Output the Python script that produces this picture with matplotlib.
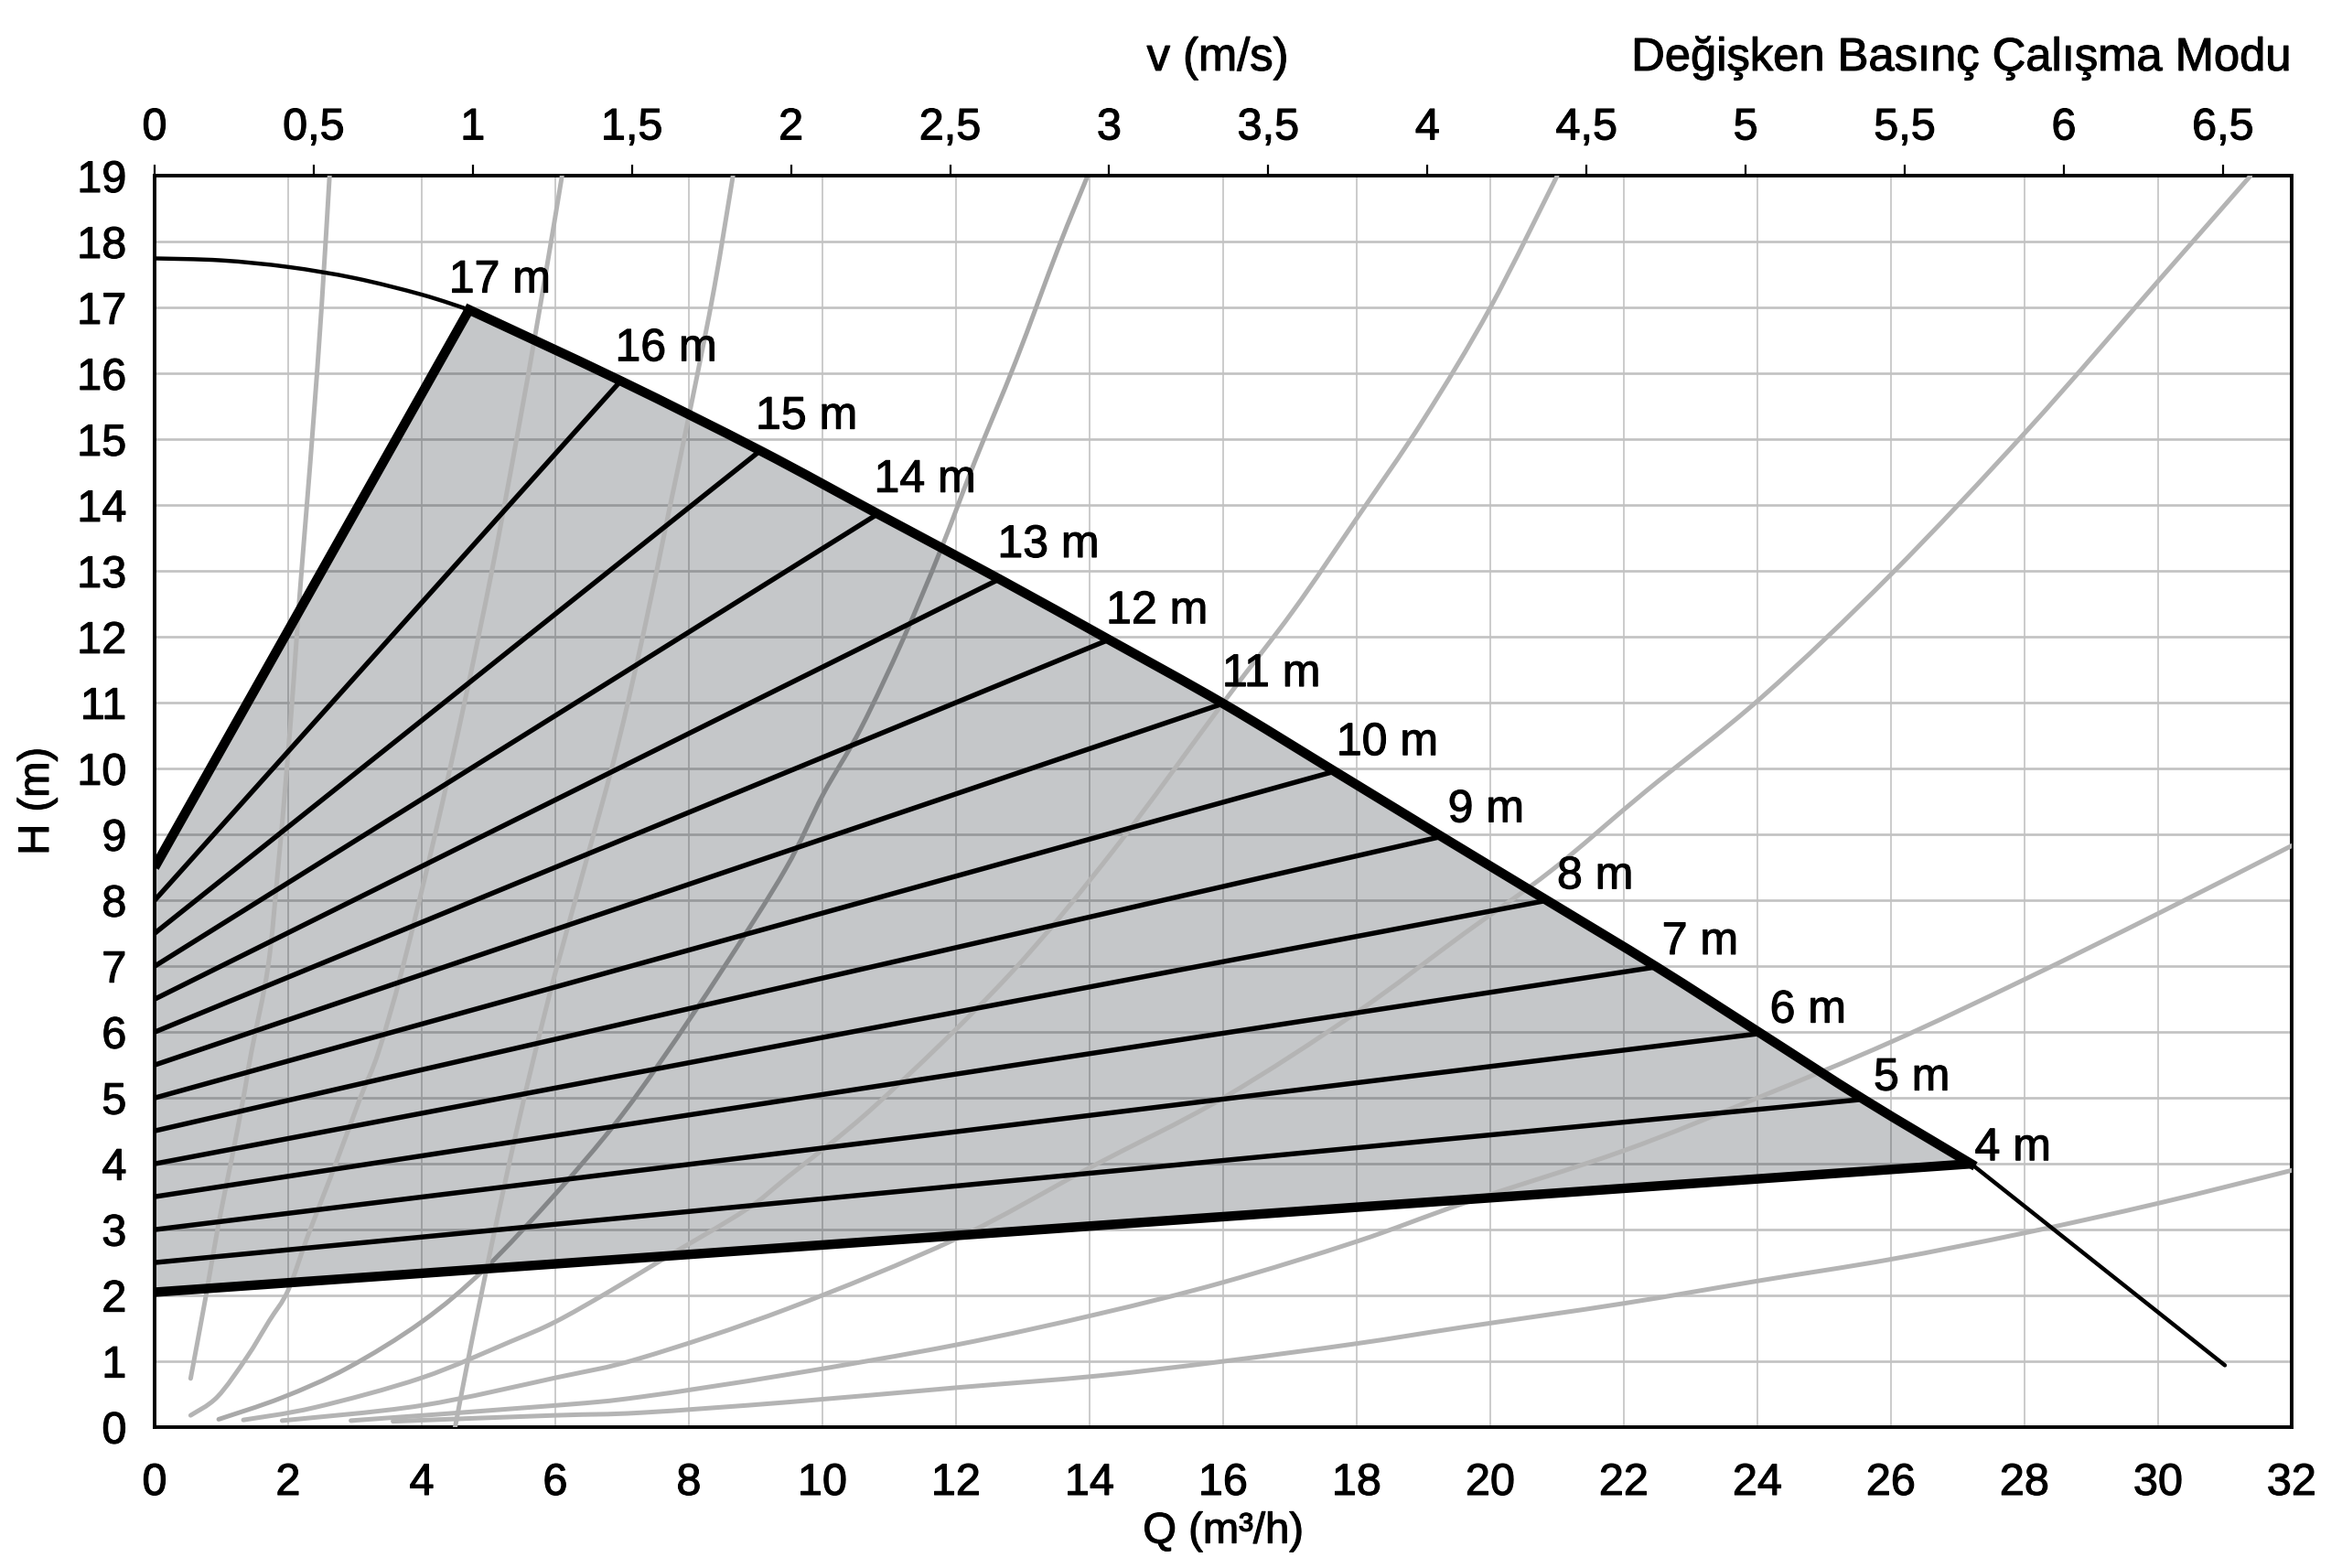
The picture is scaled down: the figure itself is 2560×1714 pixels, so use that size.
import matplotlib
matplotlib.use('Agg')
import matplotlib.pyplot as plt
from matplotlib import font_manager
from matplotlib import patheffects
from matplotlib.path import Path
from matplotlib.patches import PathPatch

# ---------------- data ----------------
# Maximum pump curve (Q in m3/h, H in m)
MAX_Q = [0, 1, 2, 3, 4, 4.71, 6.98, 9.07, 10.83, 12.65, 14.29, 16.0, 17.67,
         19.27, 20.85, 22.49, 24.05, 25.59, 27.2, 31.0]
MAX_H = [17.75, 17.72, 17.62, 17.45, 17.2, 16.97, 15.89, 14.83, 13.87, 12.88,
         11.96, 10.99, 9.96, 8.97, 8.0, 6.99, 5.98, 4.98, 4.0, 0.94]

# Set-point lines (variable pressure mode)
SET_LABELS = ['17 m', '16 m', '15 m', '14 m', '13 m', '12 m', '11 m', '10 m',
              '9 m', '8 m', '7 m', '6 m', '5 m', '4 m']
SET_Q = [4.71, 6.98, 9.07, 10.83, 12.65, 14.29, 16.0, 17.67, 19.27, 20.85,
         22.49, 24.05, 25.59, 27.2]
SET_H = [16.97, 15.89, 14.83, 13.87, 12.88, 11.96, 10.99, 9.96, 8.97, 8.0,
         6.99, 5.98, 4.98, 4.0]
SET_H0 = [8.5, 8.0, 7.5, 7.0, 6.5, 6.0, 5.5, 5.0, 4.5, 4.0, 3.5, 3.0, 2.5, 2.05]

# Grey system / velocity curves
G1_Q = [0.54, 0.77, 0.96, 1.16, 1.33, 1.45, 1.7, 1.85, 1.98, 2.08, 2.17, 2.28, 2.38, 2.5, 2.62]
G1_H = [0.74, 2.0, 3.1, 4.1, 5.0, 5.7, 7.0, 8.5, 10.0, 11.3, 12.6, 14.0, 15.3, 17.0, 19.0]

G2_Q = [0.54, 0.94, 1.38, 1.72, 2.0, 2.3, 2.69, 3.08, 3.35, 3.71, 4.2, 4.64, 5.05, 5.42, 5.77, 6.1]
G2_H = [0.18, 0.46, 1.06, 1.62, 2.08, 2.92, 3.94, 5.0, 5.69, 6.96, 9.0, 11.0, 13.0, 15.0, 17.0, 19.0]

G3_Q = [4.5, 4.69, 4.93, 5.17, 5.42, 5.7, 6.0, 6.45, 6.92, 7.33, 7.7, 8.05, 8.38, 8.66]
G3_H = [0.0, 1.0, 2.2, 3.35, 4.5, 5.7, 6.9, 8.55, 10.3, 12.1, 13.9, 15.6, 17.3, 19.0]

G4_Q = [0.96, 1.91, 2.89, 4.0, 4.94, 6.01, 6.89, 7.61, 8.51, 9.45, 10.01, 10.58,
        11.21, 11.77, 12.28, 12.9, 13.53, 13.97]
G4_H = [0.12, 0.45, 0.9, 1.6, 2.4, 3.55, 4.6, 5.6, 6.96, 8.48, 9.61, 10.62,
        11.97, 13.32, 14.66, 16.2, 17.9, 19.0]

G5_Q = [1.33, 2.4, 4.0, 5.33, 6.0, 6.79, 7.61, 8.85, 9.48, 10.81, 12.78, 14.35,
        16.0, 17.05, 18.0, 19.0, 20.0, 21.0]
G5_H = [0.11, 0.3, 0.75, 1.3, 1.6, 2.05, 2.55, 3.3, 3.8, 4.9, 6.85, 8.75,
        11.0, 12.4, 13.8, 15.3, 17.0, 19.0]

G6_Q = [1.91, 4.0, 6.0, 7.28, 9.48, 12.0, 14.0, 16.0, 18.0, 19.6, 20.91, 22.32,
        24.07, 26.0, 28.05, 30.04, 31.38]
G6_H = [0.1, 0.33, 0.75, 1.05, 1.8, 2.86, 3.94, 5.0, 6.3, 7.49, 8.45, 9.65,
        11.09, 12.95, 15.15, 17.45, 19.0]

G7_Q = [2.94, 6.0, 7.28, 9.48, 12.0, 14.13, 16.0, 18.0, 19.6, 22.0, 24.0, 26.0, 28.0, 30.0, 32.0]
G7_H = [0.1, 0.33, 0.46, 0.8, 1.25, 1.72, 2.2, 2.82, 3.4, 4.2, 5.0, 5.85, 6.8, 7.8, 8.83]

G8_Q = [3.57, 6.0, 7.28, 9.48, 12.0, 14.13, 16.0, 18.0, 19.6, 22.0, 24.0, 26.0, 28.0, 30.0, 32.0]
G8_H = [0.09, 0.18, 0.22, 0.38, 0.6, 0.78, 1.0, 1.27, 1.52, 1.88, 2.22, 2.55, 2.95, 3.4, 3.9]

X_TICKS = list(range(0, 33, 2))
Y_TICKS = list(range(0, 20))
V_TICKS = [0, 0.5, 1, 1.5, 2, 2.5, 3, 3.5, 4, 4.5, 5, 5.5, 6, 6.5]
Q_PER_V = 4.765  # m3/h per m/s (pipe velocity scale)

# ---------------- style ----------------
avail = {f.name for f in font_manager.fontManager.ttflist}
FONT = 'Liberation Sans' if 'Liberation Sans' in avail else 'DejaVu Sans'
plt.rcParams['font.family'] = [FONT, 'DejaVu Sans']

GREY = '#b4b4b4'
GRID = '#c2c2c2'
FS_TICK = 35
FS_LBL = 36
FS_TITLE = 36.5
FS_AX = 34
BOLDEN = [patheffects.withStroke(linewidth=0.8, foreground='black')]


def smooth_path(qs, hs):
    """Catmull-Rom style cubic path through the given points."""
    pts = list(zip(qs, hs))
    verts = [pts[0]]
    codes = [Path.MOVETO]
    for i in range(len(pts) - 1):
        p0 = pts[i - 1] if i > 0 else pts[i]
        p1 = pts[i]
        p2 = pts[i + 1]
        p3 = pts[i + 2] if i + 2 < len(pts) else pts[i + 1]
        c1 = (p1[0] + (p2[0] - p0[0]) / 6.0, p1[1] + (p2[1] - p0[1]) / 6.0)
        c2 = (p2[0] - (p3[0] - p1[0]) / 6.0, p2[1] - (p3[1] - p1[1]) / 6.0)
        verts += [c1, c2, p2]
        codes += [Path.CURVE4] * 3
    return verts, codes


def smooth_line(ax, qs, hs, zorder, **kw):
    v, c = smooth_path(qs, hs)
    ax.add_patch(PathPatch(Path(v, c), fill=False, zorder=zorder, **kw))


fig = plt.figure(figsize=(25.6, 17.14), dpi=100)
ax = fig.add_axes([0.0660, 0.0898, 0.9125, 0.7979])
ax.set_xlim(0, 32)
ax.set_ylim(0, 19)

ax.set_xticks(X_TICKS)
ax.set_yticks(Y_TICKS)
ax.set_axisbelow(True)
ax.xaxis.grid(True, color=GRID, lw=1.2)
ax.yaxis.grid(True, color=GRID, lw=1.9)
ax.tick_params(axis='x', length=0, pad=28, labelsize=FS_TICK)
ax.tick_params(axis='y', length=0, pad=22, labelsize=FS_TICK)
for s in ax.spines.values():
    s.set_linewidth(2.8)
    s.set_color('black')

# dark curve lies beneath the translucent field
smooth_line(ax, G4_Q, G4_H, 1, edgecolor='#a9a9a9', lw=3.6, capstyle='round')

# operating field: left edge -> max curve (thick part) -> bottom line
mv, mc = smooth_path(MAX_Q[5:19], MAX_H[5:19])
field_v = [(0.0, SET_H0[0])] + mv + [(0.0, SET_H0[-1]), (0.0, SET_H0[0])]
field_c = [Path.MOVETO, Path.LINETO] + mc[1:] + [Path.LINETO, Path.CLOSEPOLY]
ax.add_patch(PathPatch(Path(field_v, field_c), facecolor=(0.096, 0.124, 0.155),
                       alpha=0.251, lw=0, zorder=2))

# other grey curves on top of the field
for qq, hh in [(G1_Q, G1_H), (G2_Q, G2_H), (G3_Q, G3_H), (G5_Q, G5_H),
               (G6_Q, G6_H), (G7_Q, G7_H), (G8_Q, G8_H)]:
    smooth_line(ax, qq, hh, 3, edgecolor=GREY, lw=3.6, capstyle='round')

# set-point lines
n = len(SET_Q)
for i in range(n):
    thick = (i == 0 or i == n - 1)
    ax.plot([0, SET_Q[i]], [SET_H0[i], SET_H[i]], color='black',
            lw=7.5 if thick else 3.9, solid_capstyle='butt', zorder=4)

# max curve: thin outer parts, thick inside the field
smooth_line(ax, MAX_Q[:6], MAX_H[:6], 5, edgecolor='black', lw=3.2)
ax.plot(MAX_Q[18:], MAX_H[18:], color='black', lw=3.2, solid_capstyle='round', zorder=5)
smooth_line(ax, MAX_Q[5:19], MAX_H[5:19], 5, edgecolor='black', lw=7.5,
            joinstyle='miter', capstyle='projecting')

# labels
LBL_DX = [-22, -6, -5, -4, -2, -3, -1, 2, 7, 11, 6, 10, 11, 4]
LBL_DY = [19, 22, 24, 24, 24, 18, 19, 18, 16, 13, 14, 12, 10, 4]
for i in range(n):
    ax.annotate(SET_LABELS[i], (SET_Q[i], SET_H[i]), xytext=(LBL_DX[i], LBL_DY[i]),
                textcoords='offset pixels', ha='left', va='baseline',
                fontsize=FS_LBL, color='black', zorder=6, path_effects=BOLDEN)

# top velocity axis
secax = ax.secondary_xaxis('top', functions=(lambda q: q / Q_PER_V, lambda v: v * Q_PER_V))
secax.set_xticks(V_TICKS)
secax.set_xticklabels([('%g' % v).replace('.', ',') for v in V_TICKS])
secax.tick_params(direction='out', length=8.6, width=1.6, pad=13, labelsize=FS_TICK)
secax.spines['top'].set_linewidth(2.8)

for lab in ax.get_xticklabels() + ax.get_yticklabels() + secax.get_xticklabels():
    lab.set_path_effects(BOLDEN)

texts = [
    fig.text(0.520, 0.963, 'v (m/s)', ha='center', va='center', fontsize=FS_TITLE),
    fig.text(0.9785, 0.963, 'Değişken Basınç Çalışma Modu', ha='right', va='center', fontsize=FS_TITLE),
    fig.text(0.5223, 0.023, 'Q (m³/h)', ha='center', va='center', fontsize=FS_AX),
    fig.text(0.016, 0.489, 'H (m)', ha='center', va='center', rotation=90, fontsize=FS_AX),
]
for t in texts:
    t.set_path_effects(BOLDEN)

fig.savefig('out.png', dpi=100)
